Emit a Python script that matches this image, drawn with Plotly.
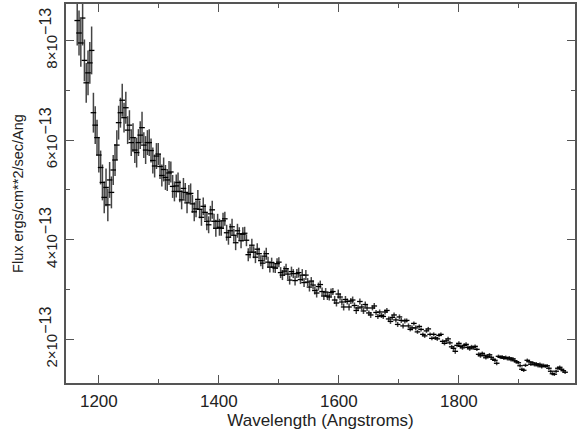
import plotly.graph_objects as go

FLUX_UNIT = 1e-13

wavelength = [
    1164, 1167, 1170, 1173, 1176, 1179, 1182, 1185, 1188, 1191,
    1194, 1197, 1200, 1203, 1206, 1209, 1212, 1215, 1218, 1221,
    1224, 1227, 1230, 1233, 1236, 1239, 1242, 1245, 1248, 1251,
    1254, 1257, 1260, 1263, 1266, 1269, 1272, 1275, 1278, 1281,
    1284, 1287, 1290, 1293, 1296, 1299, 1302, 1305, 1308, 1311,
    1314, 1317, 1320, 1323, 1326, 1329, 1332, 1335, 1338, 1341,
    1344, 1347, 1350, 1353, 1356, 1359, 1362, 1365, 1368, 1371,
    1374, 1377, 1380, 1383, 1386, 1389, 1392, 1395, 1398, 1401,
    1404, 1407, 1410, 1413, 1416, 1419, 1422, 1425, 1428, 1431,
    1434, 1437, 1440, 1443, 1446, 1449, 1452, 1455, 1458, 1461,
    1464, 1467, 1470, 1473, 1476, 1479, 1482, 1485, 1488, 1491,
    1494, 1497, 1500, 1503, 1506, 1509, 1512, 1515, 1518, 1521,
    1524, 1527, 1530, 1533, 1536, 1539, 1542, 1545, 1548, 1551,
    1554, 1557, 1560, 1563, 1566, 1569, 1572, 1575, 1578, 1581,
    1584, 1587, 1590, 1593, 1596, 1599, 1602, 1605, 1608, 1611,
    1614, 1617, 1620, 1623, 1626, 1629, 1632, 1635, 1638, 1641,
    1644, 1647, 1650, 1653, 1656, 1659, 1662, 1665, 1668, 1671,
    1674, 1677, 1680, 1683, 1686, 1689, 1692, 1695, 1698, 1701,
    1704, 1707, 1710, 1713, 1716, 1719, 1722, 1725, 1728, 1731,
    1734, 1737, 1740, 1743, 1746, 1749, 1752, 1755, 1758, 1761,
    1764, 1767, 1770, 1773, 1776, 1779, 1782, 1785, 1788, 1791,
    1794, 1797, 1800, 1803, 1806, 1809, 1812, 1815, 1818, 1821,
    1824, 1827, 1830, 1833, 1836, 1839, 1842, 1845, 1848, 1851,
    1854, 1857, 1860, 1863, 1866, 1869, 1872, 1875, 1878, 1881,
    1884, 1887, 1890, 1893, 1896, 1899, 1902, 1905, 1908, 1911,
    1914, 1917, 1920, 1923, 1926, 1929, 1932, 1935, 1938, 1941,
    1944, 1947, 1950, 1953, 1956, 1959, 1962, 1965, 1968, 1971,
    1974, 1977,
]

# flux in units of 1e-13 ergs/cm**2/sec/Ang
flux = [
    8.40, 8.15, 7.95, 8.45, 7.60, 7.15, 7.35, 7.55, 7.80, 6.55,
    6.30, 6.05, 5.70, 5.45, 5.15, 4.85, 5.05, 4.70, 5.20, 4.95,
    5.40, 5.60, 5.90, 6.35, 6.55, 6.80, 6.45, 6.65, 6.20, 6.30,
    5.95, 6.05, 5.80, 5.75, 5.95, 6.10, 6.25, 5.90, 5.80, 5.95,
    5.95, 5.79, 5.59, 5.48, 5.68, 5.72, 5.47, 5.29, 5.41, 5.25,
    5.20, 5.34, 5.36, 5.07, 4.97, 5.08, 5.15, 4.97, 4.80, 5.03,
    4.95, 4.74, 4.92, 4.93, 4.72, 4.56, 4.62, 4.81, 4.61, 4.45,
    4.67, 4.55, 4.37, 4.30, 4.52, 4.60, 4.37, 4.23, 4.37, 4.25,
    4.23, 4.38, 4.42, 4.14, 4.05, 4.18, 4.26, 4.09, 3.94, 4.18,
    4.12, 3.98, 4.11, 4.13, 3.99, 3.70, 3.75, 3.89, 3.75, 3.65,
    3.81, 3.72, 3.58, 3.53, 3.67, 3.72, 3.55, 3.45, 3.54, 3.45,
    3.43, 3.52, 3.55, 3.34, 3.29, 3.37, 3.42, 3.31, 3.19, 3.36,
    3.32, 3.18, 3.32, 3.34, 3.20, 3.29, 3.14, 3.29, 3.15, 3.05,
    3.17, 3.09, 2.98, 2.93, 3.06, 3.10, 2.96, 2.87, 2.95, 2.87,
    2.85, 2.94, 2.96, 2.79, 2.73, 2.91, 2.85, 2.75, 2.65, 2.80,
    2.76, 2.65, 2.77, 2.79, 2.68, 2.58, 2.63, 2.76, 2.65, 2.57,
    2.70, 2.63, 2.53, 2.49, 2.63, 2.67, 2.54, 2.46, 2.55, 2.48,
    2.46, 2.55, 2.58, 2.41, 2.36, 2.44, 2.49, 2.39, 2.30, 2.45,
    2.38, 2.27, 2.37, 2.38, 2.27, 2.20, 2.23, 2.32, 2.23, 2.15,
    2.26, 2.20, 2.10, 2.07, 2.17, 2.21, 2.10, 2.02, 2.10, 2.03,
    2.01, 2.08, 2.10, 1.96, 1.92, 1.97, 2.01, 1.93, 1.85, 1.82,
    1.76, 1.88, 1.92, 1.86, 1.83, 1.88, 1.90, 1.84, 1.81, 1.85,
    1.83, 1.86, 1.80, 1.70, 1.67, 1.72, 1.68, 1.63, 1.66, 1.69,
    1.64, 1.60, 1.58, 1.52, 1.66, 1.64, 1.65, 1.62, 1.64, 1.61,
    1.63, 1.59, 1.61, 1.57, 1.55, 1.53, 1.47, 1.40, 1.38, 1.48,
    1.58, 1.55, 1.50, 1.53, 1.49, 1.51, 1.47, 1.50, 1.45, 1.48,
    1.46, 1.47, 1.42, 1.36, 1.31, 1.30, 1.36, 1.42, 1.44, 1.40,
    1.37, 1.34,
]

flux_err = [
    0.50, 0.45, 0.48, 0.55, 0.42, 0.40, 0.45, 0.42, 0.48, 0.40,
    0.38, 0.36, 0.35, 0.34, 0.36, 0.32, 0.38, 0.33, 0.36, 0.32,
    0.30, 0.32, 0.30, 0.34, 0.30, 0.33, 0.30, 0.32, 0.28, 0.30,
    0.27, 0.29, 0.26, 0.30, 0.27, 0.28, 0.32, 0.26, 0.28, 0.25,
    0.27, 0.24, 0.26, 0.23, 0.26, 0.22, 0.25, 0.22, 0.24, 0.25,
    0.22, 0.24, 0.21, 0.23, 0.20, 0.23, 0.20, 0.22, 0.19, 0.21,
    0.19, 0.21, 0.18, 0.20, 0.18, 0.19, 0.17, 0.19, 0.18, 0.17,
    0.18, 0.16, 0.18, 0.17, 0.16, 0.18, 0.15, 0.17, 0.15, 0.17,
    0.15, 0.16, 0.14, 0.16, 0.15, 0.14, 0.16, 0.13, 0.15, 0.14,
    0.13, 0.15, 0.14, 0.13, 0.12, 0.13, 0.12, 0.13, 0.12, 0.12,
    0.12, 0.12, 0.11, 0.12, 0.11, 0.12, 0.11, 0.11, 0.10, 0.11,
    0.10, 0.11, 0.10, 0.11, 0.10, 0.10, 0.10, 0.10, 0.09, 0.10,
    0.09, 0.10, 0.09, 0.10, 0.09, 0.12, 0.09, 0.10, 0.08, 0.09,
    0.08, 0.09, 0.08, 0.09, 0.08, 0.08, 0.08, 0.08, 0.08, 0.08,
    0.07, 0.08, 0.07, 0.08, 0.07, 0.09, 0.07, 0.07, 0.07, 0.07,
    0.06, 0.07, 0.06, 0.07, 0.06, 0.07, 0.06, 0.06, 0.06, 0.06,
    0.06, 0.06, 0.05, 0.06, 0.05, 0.06, 0.05, 0.05, 0.05, 0.05,
    0.05, 0.05, 0.05, 0.05, 0.05, 0.05, 0.05, 0.05, 0.05, 0.05,
    0.05, 0.05, 0.05, 0.04, 0.05, 0.04, 0.05, 0.04, 0.05, 0.04,
    0.04, 0.04, 0.04, 0.04, 0.04, 0.04, 0.04, 0.04, 0.04, 0.04,
    0.04, 0.04, 0.04, 0.04, 0.04, 0.04, 0.04, 0.04, 0.04, 0.05,
    0.05, 0.04, 0.04, 0.04, 0.04, 0.04, 0.04, 0.04, 0.04, 0.04,
    0.04, 0.035, 0.035, 0.04, 0.04, 0.035, 0.035, 0.035, 0.035, 0.035,
    0.035, 0.035, 0.035, 0.04, 0.035, 0.035, 0.035, 0.035, 0.035, 0.035,
    0.035, 0.035, 0.035, 0.035, 0.035, 0.035, 0.035, 0.035, 0.035, 0.035,
    0.035, 0.035, 0.035, 0.035, 0.035, 0.035, 0.035, 0.035, 0.035, 0.035,
    0.035, 0.035, 0.035, 0.035, 0.035, 0.035, 0.035, 0.035, 0.035, 0.035,
    0.035, 0.035,
]

y_tick_vals = [2, 4, 6, 8]
y_tick_text = [f'{v}×10<sup><span style="font-size:16px">−13</span></sup>'
               for v in y_tick_vals]
y_minor_vals = [3, 5, 7]
x_tick_vals = [1200, 1400, 1600, 1800]
x_minor_vals = [1300, 1500, 1700, 1900]

fy = [v * FLUX_UNIT for v in flux]
fe = [v * FLUX_UNIT for v in flux_err]

fig = go.Figure()
fig.add_trace(go.Scatter(
    x=wavelength, y=fy, mode="markers",
    error_y=dict(type="data", array=fe, visible=True, color="#444444",
                 thickness=1.5, width=0),
    marker=dict(symbol="line-ew", size=4, color="black",
                line=dict(color="black", width=1.3)),
    showlegend=False, cliponaxis=True,
))

axis_color = "#555555"
font_family = "Liberation Sans, Arial, sans-serif"

fig.update_layout(
    width=578, height=431,
    margin=dict(l=66, r=1, t=4, b=48),
    paper_bgcolor="white", plot_bgcolor="white",
    font=dict(family=font_family, size=15, color="#222222"),
    xaxis=dict(
        range=[1145.3, 1993.5],
        tickmode="array", tickvals=x_tick_vals,
        ticktext=[str(v) for v in x_tick_vals],
        ticks="inside", ticklen=8, tickwidth=1.2, tickcolor=axis_color,
        minor=dict(tickmode="array", tickvals=x_minor_vals, ticks="inside",
                   ticklen=4, tickwidth=1.2, tickcolor=axis_color),
        showline=True, linecolor=axis_color, linewidth=1.5,
        mirror="allticks", showgrid=False, zeroline=False,
        tickfont=dict(size=17), ticklabelstandoff=2,
        title=dict(text="Wavelength (Angstroms)", font=dict(size=17), standoff=4),
    ),
    yaxis=dict(
        range=[1.124 * FLUX_UNIT, 8.732 * FLUX_UNIT],
        tickmode="array", tickvals=[v * FLUX_UNIT for v in y_tick_vals],
        ticktext=y_tick_text, tickangle=-90,
        ticks="inside", ticklen=8, tickwidth=1.2, tickcolor=axis_color,
        minor=dict(tickmode="array", tickvals=[v * FLUX_UNIT for v in y_minor_vals],
                   ticks="inside", ticklen=4, tickwidth=1.2, tickcolor=axis_color),
        showline=True, linecolor=axis_color, linewidth=1.5,
        mirror="allticks", showgrid=False, zeroline=False,
        tickfont=dict(size=15), ticklabelstandoff=1,
        title=dict(text="Flux ergs/cm**2/sec/Ang", font=dict(size=14.5), standoff=10),
    ),
)

fig.write_html("out.html")
